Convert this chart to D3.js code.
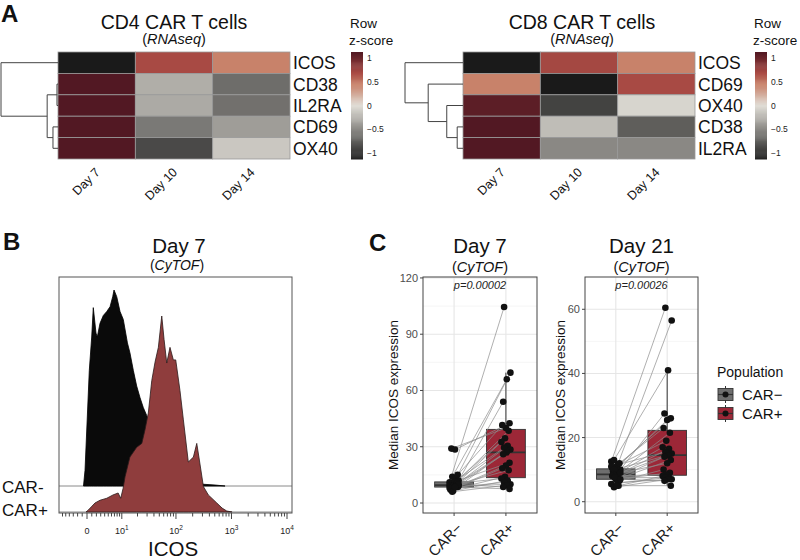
<!DOCTYPE html>
<html>
<head>
<meta charset="utf-8">
<script src="https://cdn.jsdelivr.net/npm/d3@7"></script>
<style>
  body { margin: 0; background: #fff; overflow: hidden; }
  text { font-family: "Liberation Sans", Arial, Helvetica, sans-serif; }
</style>
</head>
<body>
<script>
// ---------------- data ----------------
const days = ["Day 7", "Day 10", "Day 14"];

const cd4Genes = ["ICOS", "CD38", "IL2RA", "CD69", "OX40"];
const cd4Z = [
  [-1.15, 0.70, 0.45],
  [1.13, -0.28, -0.66],
  [1.13, -0.30, -0.64],
  [1.13, -0.59, -0.38],
  [1.13, -0.87, -0.13]
];
const cd8Genes = ["ICOS", "CD69", "OX40", "CD38", "IL2RA"];
const cd8Z = [
  [-1.15, 0.72, 0.45],
  [0.45, -1.15, 0.70],
  [1.08, -0.91, -0.05],
  [1.13, -0.19, -0.75],
  [1.13, -0.50, -0.50]
];
// dendrograms (merge heights relative to root)
const cd4Tree = {h: 1, c: [{n: "ICOS"}, {h: 0.19, c: [
  {h: 0.018, c: [{n: "CD38"}, {n: "IL2RA"}]},
  {h: 0.088, c: [{n: "CD69"}, {n: "OX40"}]}]}]};
const cd8Tree = {h: 1, c: [{n: "ICOS"}, {h: 0.6, c: [{n: "CD69"}, {h: 0.28, c: [
  {n: "OX40"}, {h: 0.1, c: [{n: "CD38"}, {n: "IL2RA"}]}]}]}]};

const zBreaks = [1, 0.5, 0, -0.5, -1];
const zLabels = ["1", "0.5", "0", "\u22120.5", "\u22121"];

// CyTOF histogram, ICOS intensity vs % of mode
const negVal = [-0.73, -0.41, 0.48, 0.98, 1.32, 1.91, 2.2, 2.83, 3.65, 4.56, 5.55, 6.4, 6.85, 7.85, 9.2, 10.7,
  12.9, 14.4, 16.7, 19.3, 22.3, 25.6, 29.5, 34, 51.5, 78, 118, 180, 272, 506, 766];
const negPct = [0, 8, 59, 76, 91, 78, 76, 83, 87, 89, 91.5, 96.6, 100, 96.6, 89, 85,
  73, 68, 59, 51, 45, 40, 36, 31, 21, 13, 7, 3, 1, 0.5, 0];
const posVal = [-0.21, 0.27, 1.05, 1.69, 2.83, 4.56, 6.5, 8.4, 9.5, 10.6, 11.6, 14.4, 19.3, 24, 27.5, 31.6, 36.5,
  41.9, 48.1, 55.4, 61, 68.2, 78, 89.7, 99, 118, 136, 167, 206, 237, 264, 312, 383, 544, 678, 823, 1025];
const posPct = [0, 1, 3, 4.6, 6, 7, 8.7, 9.7, 7, 12, 18, 28, 33, 35, 42, 50.5, 67,
  76.5, 84, 100, 88, 76, 84, 77.6, 77.6, 62, 47, 25.5, 28, 35, 26.5, 13, 8.7, 4.6, 2, 0.5, 0];
const icosMajor = [0, 10, 100, 1000, 10000];
const icosMajorExp = ["", "1", "2", "3", "4"];
const icosMinor = [-6, -5, -4, -3, -2, -1, 1, 2, 3, 4, 5, 6, 7, 8, 9, 20, 30, 40, 50, 60, 70, 80, 90,
  200, 300, 400, 500, 600, 700, 800, 900, 2000, 3000, 4000, 5000, 6000, 7000, 8000, 9000];

// paired medians per sample
const groups = ["CAR\u2212", "CAR+"];
const d7Neg = [11, 13, 14, 12, 28.5, 29, 15, 10, 9, 10.5, 8.5, 9.5, 10, 8, 9, 11.5, 7.5, 8.5, 9.5, 7, 10.5, 6.5, 8, 9, 6, 10, 8.5];
const d7Pos = [104.5, 69.5, 66, 54, 42.5, 40, 41.5, 38.5, 34.5, 32.5, 30.5, 29.5, 28.5, 27, 26, 21.5, 20, 18.5, 17.5, 14, 13, 12, 11, 10, 9.5, 8.5, 7.5];
const d21Neg = [12.5, 11.5, 13, 10, 11, 9.5, 12, 8.5, 10.5, 9, 8, 11, 7.5, 10, 9, 7, 8.5, 6.5, 7, 8, 5, 7.5, 5.5, 6, 4.5, 7, 5];
const d21Pos = [60.5, 56.5, 41, 27.5, 26, 25.5, 23, 21.5, 19, 17, 16.5, 15.5, 15, 14.5, 14, 13, 12, 10, 9, 8.5, 8, 7.5, 7.5, 7, 7, 6.5, 5];
const d7Ticks = [0, 30, 60, 90, 120];
const d21Ticks = [0, 20, 40, 60];

// ---------------- setup ----------------
const svg = d3.select("body").append("svg")
  .attr("width", 800).attr("height", 560);
svg.append("rect").attr("width", 800).attr("height", 560).attr("fill", "#fff");

const zColor = d3.scaleLinear()
  .domain([-1.15, 0, 0.45, 0.7, 1.15])
  .range(["#1a1a1a", "#e0ddd6", "#c8826a", "#a84a44", "#4e1621"]);

function panelLetter(t, x, y) {
  svg.append("text").attr("x", x).attr("y", y).text(t)
    .attr("font-size", 24).attr("font-weight", "bold").attr("fill", "#111");
}

function subtitle(g, x, y, size, word) {
  const sub = g.append("text").attr("x", x).attr("y", y).attr("text-anchor", "middle")
    .attr("font-size", size).attr("fill", "#111");
  sub.append("tspan").text("(");
  sub.append("tspan").attr("font-style", "italic").text(word);
  sub.append("tspan").text(")");
}

//////////// A: heatmaps ////////////
function drawHeatmap(cfg) {
  const g = svg.append("g");
  const x = d3.scaleBand().domain(days).range([cfg.x0, cfg.x1]);
  const y = d3.scaleBand().domain(cfg.genes).range([52, 159]);

  const cells = cfg.genes.flatMap((gene, i) => days.map((d, j) => ({gene, d, z: cfg.z[i][j]})));
  g.selectAll("rect.cell").data(cells).join("rect")
    .attr("x", c => x(c.d)).attr("y", c => y(c.gene))
    .attr("width", x.bandwidth()).attr("height", y.bandwidth())
    .attr("fill", c => zColor(c.z))
    .attr("stroke", "#999").attr("stroke-width", 0.8);

  g.selectAll("text.row").data(cfg.genes).join("text")
    .attr("x", cfg.x1 + 3).attr("y", d => y(d) + y.bandwidth() / 2 + 6.5)
    .attr("font-size", 17.5).attr("fill", "#111").text(d => d);

  g.selectAll("text.col").data(days).join("text")
    .attr("transform", d => `translate(${x(d) + x.bandwidth() / 2 + 4},173) rotate(-45)`)
    .attr("text-anchor", "end").attr("font-size", 12.5).attr("fill", "#111").text(d => d);

  // titles
  g.append("text").attr("x", cfg.titleX).attr("y", 28.5).attr("text-anchor", "middle")
    .attr("font-size", 19.5).attr("fill", "#111").text(cfg.title);
  subtitle(g, cfg.titleX, 44, 14.5, "RNAseq");

  // dendrogram
  const root = d3.hierarchy(cfg.tree, d => d.c);
  const dx = d3.scaleLinear().domain([0, 1]).range([cfg.x0, cfg.rootX]);
  root.eachAfter(n => {
    if (!n.children) { n.py = y(n.data.n) + y.bandwidth() / 2; n.hh = 0; }
    else { n.py = d3.mean(n.children, c => c.py); n.hh = n.data.h; }
  });
  const segs = [];
  root.each(n => {
    if (!n.children) return;
    const ys = n.children.map(c => c.py);
    segs.push([dx(n.hh), d3.min(ys), dx(n.hh), d3.max(ys)]);
    n.children.forEach(c => segs.push([dx(n.hh), c.py, dx(c.hh), c.py]));
  });
  g.selectAll("line.dend").data(segs).join("line")
    .attr("x1", s => s[0]).attr("y1", s => s[1]).attr("x2", s => s[2]).attr("y2", s => s[3])
    .attr("stroke", "#444").attr("stroke-width", 1);

  // colour key
  const ky = d3.scaleLinear().domain([-1.13, 1.13]).range([159, 52]);
  const steps = d3.range(-1.13, 1.13, 0.02);
  g.selectAll("rect.key").data(steps).join("rect")
    .attr("x", cfg.keyX).attr("width", 12)
    .attr("y", v => ky(v + 0.02)).attr("height", v => ky(v) - ky(v + 0.02) + 0.5)
    .attr("fill", v => zColor(v + 0.01));
  g.selectAll("text.kl").data(zBreaks).join("text")
    .attr("x", cfg.keyX + 16).attr("y", v => ky(v) + 3)
    .attr("font-size", 8.5).attr("fill", "#222").text((v, i) => zLabels[i]);
  g.append("text").attr("x", cfg.keyX - 1).attr("y", 28).attr("font-size", 13.5).attr("fill", "#111").text("Row");
  g.append("text").attr("x", cfg.keyX - 2).attr("y", 45).attr("font-size", 13.5).attr("fill", "#111").text("z-score");
}

drawHeatmap({x0: 58, x1: 290, rootX: 1, genes: cd4Genes, z: cd4Z, tree: cd4Tree,
  title: "CD4 CAR T cells", titleX: 174, keyX: 351});
drawHeatmap({x0: 463, x1: 695, rootX: 405, genes: cd8Genes, z: cd8Z, tree: cd8Tree,
  title: "CD8 CAR T cells", titleX: 582, keyX: 755});
panelLetter("A", 1, 22);

//////////// B: histogram ////////////
(function () {
  const g = svg.append("g");
  const fl = 59, fr = 292, ft = 277, fb = 513;
  const tr = v => Math.asinh(v / 5);
  const hx = d3.scaleLinear().domain([tr(0), tr(10000)]).range([87, 287]);
  const hy = d3.scaleLinear().domain([0, 100]).range([0, 196]);
  const negBase = 486, posBase = 512;

  g.append("text").attr("x", 179).attr("y", 253).attr("text-anchor", "middle")
    .attr("font-size", 20.5).attr("fill", "#111").text("Day 7");
  subtitle(g, 177, 270, 14, "CyTOF");

  [negBase, posBase].forEach(b => g.append("line")
    .attr("x1", fl).attr("x2", fr).attr("y1", b).attr("y2", b)
    .attr("stroke", "#8a8a8a").attr("stroke-width", 1));

  const area = base => d3.area()
    .x(d => hx(tr(d[0]))).y0(base).y1(d => base - hy(d[1]));
  g.append("path").datum(d3.zip(negVal, negPct)).attr("d", area(negBase))
    .attr("fill", "#0a0a0a").attr("stroke", "#000").attr("stroke-width", 0.8);
  g.append("path").datum(d3.zip(posVal, posPct)).attr("d", area(posBase))
    .attr("fill", "#8f3d3d").attr("stroke", "#2b1b1b").attr("stroke-width", 0.8);

  g.append("rect").attr("x", fl).attr("y", ft).attr("width", fr - fl).attr("height", fb - ft)
    .attr("fill", "none").attr("stroke", "#555").attr("stroke-width", 1);

  g.selectAll("line.maj").data(icosMajor).join("line")
    .attr("x1", d => hx(tr(d))).attr("x2", d => hx(tr(d))).attr("y1", fb).attr("y2", fb + 6)
    .attr("stroke", "#444");
  g.selectAll("line.min").data(icosMinor).join("line")
    .attr("x1", d => hx(tr(d))).attr("x2", d => hx(tr(d))).attr("y1", fb).attr("y2", fb + 3.5)
    .attr("stroke", "#444");
  const lab = g.selectAll("text.tl").data(icosMajor).join("text")
    .attr("x", d => hx(tr(d))).attr("y", 534).attr("text-anchor", "middle")
    .attr("font-size", 9).attr("fill", "#222");
  lab.append("tspan").text(d => d === 0 ? "0" : "10");
  lab.append("tspan").attr("dy", -4).attr("font-size", 6.5).text((d, i) => icosMajorExp[i]);

  g.append("text").attr("x", 173).attr("y", 556).attr("text-anchor", "middle")
    .attr("font-size", 20.5).attr("fill", "#111").text("ICOS");
  g.append("text").attr("x", 2).attr("y", 493).attr("font-size", 17).attr("fill", "#111").text("CAR-");
  g.append("text").attr("x", 2).attr("y", 516).attr("font-size", 17).attr("fill", "#111").text("CAR+");
})();
panelLetter("B", 3, 250);

//////////// C: paired boxplots ////////////
const boxFill = {"CAR\u2212": "#6e6e6e", "CAR+": "#9c2737"};

function boxStats(vals) {
  const s = vals.slice().sort(d3.ascending);
  const q1 = d3.quantile(s, 0.25), med = d3.quantile(s, 0.5), q3 = d3.quantile(s, 0.75);
  const iqr = q3 - q1;
  const lo = d3.min(s.filter(v => v >= q1 - 1.5 * iqr));
  const hi = d3.max(s.filter(v => v <= q3 + 1.5 * iqr));
  return {q1, med, q3, lo, hi};
}

function drawPaired(cfg) {
  const g = svg.append("g");
  const {fl, fr, ft, fb} = cfg;
  const x = d3.scalePoint().domain(groups).range([fl, fr]).padding(0.6);
  const step = x.step();
  const y = d3.scaleLinear().domain(cfg.yDomain).range([fb, ft]);

  // titles
  const cx = (fl + fr) / 2;
  g.append("text").attr("x", cx).attr("y", 253).attr("text-anchor", "middle")
    .attr("font-size", 20.5).attr("fill", "#111").text(cfg.title);
  subtitle(g, cx, 271.5, 14.5, "CyTOF");

  // grid
  const minor = cfg.ticks.slice(0, -1).map((t, i) => (t + cfg.ticks[i + 1]) / 2);
  g.selectAll("line.gmin").data(minor).join("line")
    .attr("x1", fl).attr("x2", fr).attr("y1", d => y(d)).attr("y2", d => y(d))
    .attr("stroke", "#f0f0f0").attr("stroke-width", 0.6);
  g.selectAll("line.gmaj").data(cfg.ticks).join("line")
    .attr("x1", fl).attr("x2", fr).attr("y1", d => y(d)).attr("y2", d => y(d))
    .attr("stroke", "#e6e6e6").attr("stroke-width", 1.1);
  g.selectAll("line.gx").data(groups).join("line")
    .attr("x1", d => x(d)).attr("x2", d => x(d)).attr("y1", ft).attr("y2", fb)
    .attr("stroke", "#e6e6e6").attr("stroke-width", 1.1);

  // boxes
  const bw = step * 0.75;
  groups.forEach((grp, gi) => {
    const st = boxStats(gi === 0 ? cfg.neg : cfg.pos);
    const bx = x(grp);
    g.append("line").attr("x1", bx).attr("x2", bx).attr("y1", y(st.hi)).attr("y2", y(st.q3))
      .attr("stroke", "#333").attr("stroke-width", 1);
    g.append("line").attr("x1", bx).attr("x2", bx).attr("y1", y(st.q1)).attr("y2", y(st.lo))
      .attr("stroke", "#333").attr("stroke-width", 1);
    g.append("rect").attr("x", bx - bw / 2).attr("width", bw)
      .attr("y", y(st.q3)).attr("height", y(st.q1) - y(st.q3))
      .attr("fill", boxFill[grp]).attr("stroke", "#333").attr("stroke-width", 0.9);
    g.append("line").attr("x1", bx - bw / 2).attr("x2", bx + bw / 2)
      .attr("y1", y(st.med)).attr("y2", y(st.med))
      .attr("stroke", "#333").attr("stroke-width", 1.8);
  });

  // paired lines and points (small fixed dodge so points do not stack)
  const jit = (i, k) => (((i * 7 + k * 3) % 11) - 5) * 0.9;
  const pairs = cfg.neg.map((v, i) => ({
    x0: x(groups[0]) + jit(i, 0), y0: y(v),
    x1: x(groups[1]) + jit(i, 1), y1: y(cfg.pos[i])
  }));
  g.selectAll("line.pair").data(pairs).join("line")
    .attr("x1", p => p.x0).attr("y1", p => p.y0).attr("x2", p => p.x1).attr("y2", p => p.y1)
    .attr("stroke", "#8c8c8c").attr("stroke-width", 0.7);
  const pts = pairs.flatMap(p => [[p.x0, p.y0], [p.x1, p.y1]]);
  g.selectAll("circle.pt").data(pts).join("circle")
    .attr("cx", p => p[0]).attr("cy", p => p[1]).attr("r", 3.3)
    .attr("fill", "#111");

  // frame and axes
  g.append("rect").attr("x", fl).attr("y", ft).attr("width", fr - fl).attr("height", fb - ft)
    .attr("fill", "none").attr("stroke", "#444").attr("stroke-width", 1);
  g.selectAll("line.yt").data(cfg.ticks).join("line")
    .attr("x1", fl - 3).attr("x2", fl).attr("y1", d => y(d)).attr("y2", d => y(d))
    .attr("stroke", "#444");
  g.selectAll("text.yl").data(cfg.ticks).join("text")
    .attr("x", fl - 5).attr("y", d => y(d) + 4).attr("text-anchor", "end")
    .attr("font-size", 11).attr("fill", "#4d4d4d").text(d => d);
  g.selectAll("line.xt").data(groups).join("line")
    .attr("x1", d => x(d)).attr("x2", d => x(d)).attr("y1", fb).attr("y2", fb + 3)
    .attr("stroke", "#444");
  g.selectAll("text.xl").data(groups).join("text")
    .attr("transform", d => `translate(${x(d) + 9},529) rotate(-45)`)
    .attr("text-anchor", "end").attr("font-size", 15).attr("fill", "#1a1a1a").text(d => d);
  g.append("text").attr("transform", `translate(${cfg.yTitleX},${(ft + fb) / 2}) rotate(-90)`)
    .attr("text-anchor", "middle").attr("font-size", 13.5).attr("fill", "#111")
    .text("Median ICOS expression");
  g.append("text").attr("x", (x(groups[0]) + x(groups[1])) / 2).attr("y", 289)
    .attr("text-anchor", "middle").attr("font-size", 11).attr("font-style", "italic")
    .attr("fill", "#222").text(cfg.p);
}

drawPaired({fl: 423, fr: 537, ft: 277, fb: 513, yDomain: [-5.33, 120.5], ticks: d7Ticks,
  neg: d7Neg, pos: d7Pos, title: "Day 7", p: "p=0.00002", yTitleX: 398});
drawPaired({fl: 585, fr: 698, ft: 277, fb: 513, yDomain: [-3.52, 70.07], ticks: d21Ticks,
  neg: d21Neg, pos: d21Pos, title: "Day 21", p: "p=0.00026", yTitleX: 565});
panelLetter("C", 369, 251);

// legend
(function () {
  const g = svg.append("g");
  g.append("text").attr("x", 717).attr("y", 377).attr("font-size", 14).attr("fill", "#111").text("Population");
  const ly = d3.scaleBand().domain(groups).range([385, 423]);
  const key = g.selectAll("g.key").data(groups).join("g")
    .attr("transform", d => `translate(718,${ly(d)})`);
  key.append("line").attr("x1", 7.5).attr("x2", 7.5).attr("y1", 1).attr("y2", 18)
    .attr("stroke", "#333");
  key.append("rect").attr("x", 0).attr("y", 3.5).attr("width", 15).attr("height", 12)
    .attr("fill", d => boxFill[d]).attr("stroke", "#333").attr("stroke-width", 0.9);
  key.append("line").attr("x1", 0).attr("x2", 15).attr("y1", 9.5).attr("y2", 9.5)
    .attr("stroke", "#333").attr("stroke-width", 1.2);
  key.append("circle").attr("cx", 7.5).attr("cy", 9.5).attr("r", 3).attr("fill", "#111");
  key.append("text").attr("x", 24).attr("y", 15).attr("font-size", 15).attr("fill", "#111").text(d => d);
})();
</script>
</body>
</html>
